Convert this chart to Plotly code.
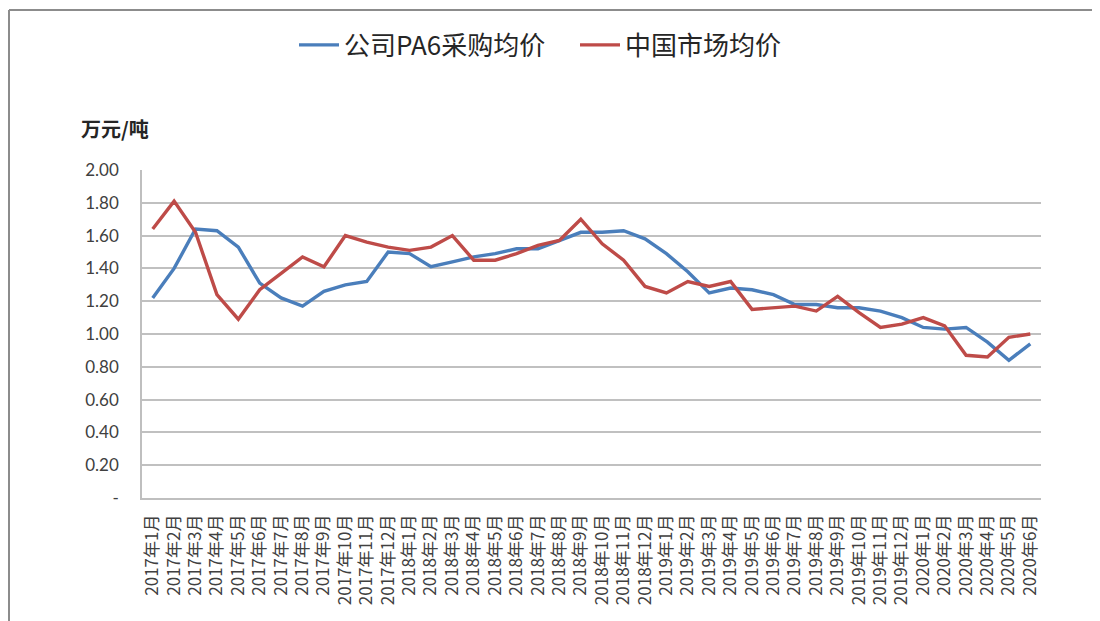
import plotly.graph_objects as go

months = [f"{y}年{m}月" for y in (2017, 2018, 2019) for m in range(1, 13)] + [f"2020年{m}月" for m in range(1, 7)]

company_pa6 = [1.22, 1.40, 1.64, 1.63, 1.53, 1.31, 1.22, 1.17, 1.26, 1.30, 1.32, 1.50,
               1.49, 1.41, 1.44, 1.47, 1.49, 1.52, 1.52, 1.57, 1.62, 1.62, 1.63, 1.58,
               1.49, 1.38, 1.25, 1.28, 1.27, 1.24, 1.18, 1.18, 1.16, 1.16, 1.14, 1.10,
               1.04, 1.03, 1.04, 0.95, 0.84, 0.94]
china_market = [1.64, 1.81, 1.62, 1.24, 1.09, 1.27, 1.37, 1.47, 1.41, 1.60, 1.56, 1.53,
                1.51, 1.53, 1.60, 1.45, 1.45, 1.49, 1.54, 1.57, 1.70, 1.55, 1.45, 1.29,
                1.25, 1.32, 1.29, 1.32, 1.15, 1.16, 1.17, 1.14, 1.23, 1.13, 1.04, 1.06,
                1.10, 1.05, 0.87, 0.86, 0.98, 1.00]

y_ticks = [0, 0.2, 0.4, 0.6, 0.8, 1.0, 1.2, 1.4, 1.6, 1.8, 2.0]
y_ticktext = ["-"] + [f"{v:.2f}" for v in y_ticks[1:]]

font_cjk = "Noto Sans CJK SC, Lato, sans-serif"

# plot area in figure pixels (page is offset by 8px body margin)
L, R, T, B = 134, 67, 162, 131
W, H = 1100, 621
PW, PH = W - L - R, H - T - B


def px(fx):
    return (fx - L) / PW


def py(fy):
    return (H - B - fy) / PH


fig = go.Figure()
fig.add_trace(go.Scatter(x=months, y=company_pa6, mode="lines", name="公司PA6采购均价",
                         line=dict(color="#4A7EBB", width=3.4), legend="legend"))
fig.add_trace(go.Scatter(x=months, y=china_market, mode="lines", name="中国市场均价",
                         line=dict(color="#BE4B48", width=3.4), legend="legend2"))

legend_common = dict(orientation="h", yanchor="middle", xanchor="left",
                     font=dict(size=26, color="#262626", family=font_cjk),
                     itemwidth=40, bgcolor="rgba(0,0,0,0)")

fig.update_layout(
    width=W, height=H,
    margin=dict(l=L, r=R, t=T, b=B),
    paper_bgcolor="white", plot_bgcolor="white",
    font=dict(family=font_cjk, color="#404040"),
    showlegend=True,
    legend=dict(x=px(286), y=py(37), **legend_common),
    legend2=dict(x=px(567), y=py(37), **legend_common),
    xaxis=dict(type="category", tickangle=-90, tickfont=dict(size=17, color="#404040", family=font_cjk),
               showgrid=False, showline=True, linecolor="#BFBFBF", linewidth=1.5,
               ticks="", ticklabelstandoff=8, range=[-0.5, len(months) - 0.5]),
    yaxis=dict(range=[0, 2.0], tickvals=y_ticks, ticktext=y_ticktext,
               tickfont=dict(size=17, color="#404040", family="Lato, Open Sans, sans-serif"),
               showgrid=True, gridcolor="#C0C0C0", gridwidth=1.5,
               showline=True, linecolor="#BFBFBF", linewidth=1.5,
               zeroline=False, ticks="", ticklabelstandoff=18),
    annotations=[dict(text="<b>万元/吨</b>", x=px(71), y=py(120),
                      xref="paper", yref="paper", xanchor="left", yanchor="middle",
                      showarrow=False, font=dict(size=20, color="#262626", family="Noto Sans CJK SC"))],
    shapes=[
        dict(type="line", xref="paper", yref="paper", x0=px(1), x1=px(W),
             y0=py(2), y1=py(2), line=dict(color="#8C8C8C", width=2)),
        dict(type="line", xref="paper", yref="paper", x0=px(1), x1=px(1),
             y0=py(2), y1=py(H), line=dict(color="#8C8C8C", width=2)),
    ],
)

fig.write_html("out.html")
